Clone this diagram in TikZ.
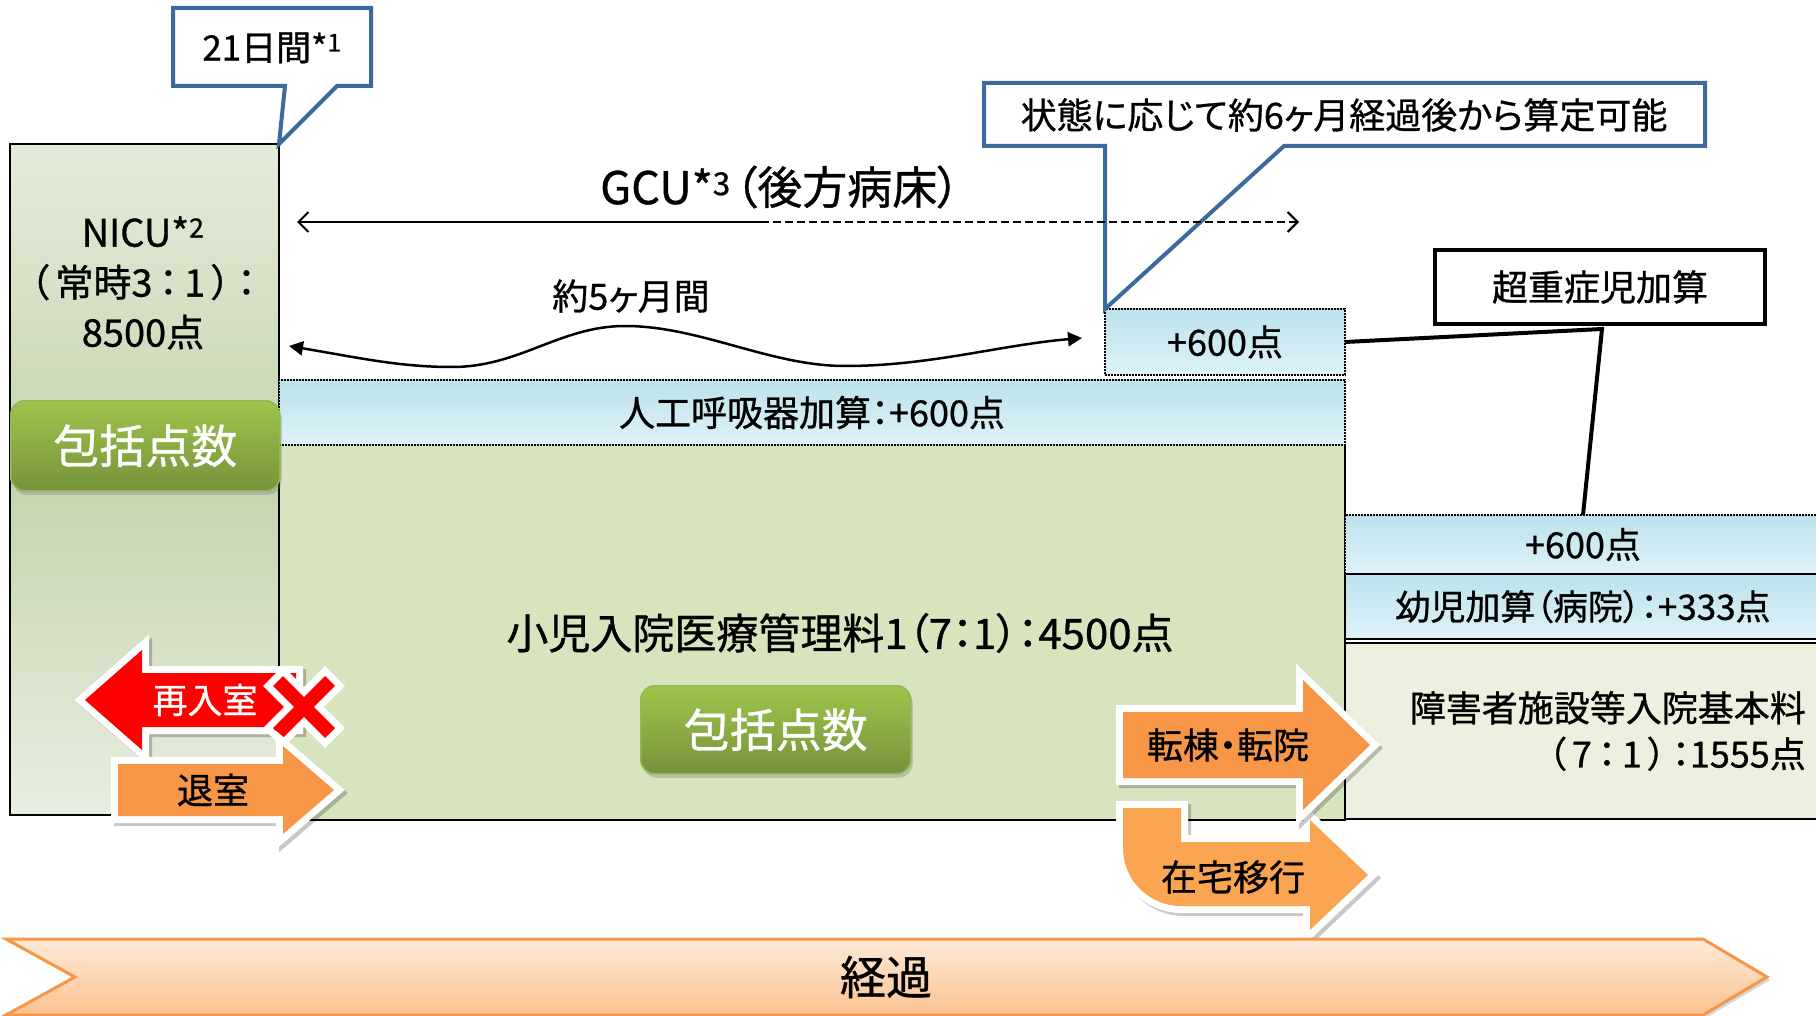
\documentclass[tikz,border=0pt]{standalone}
\usepackage{fontspec}
\setmainfont{Noto Sans CJK JP}[RawFeature=+palt, FakeBold=0.8]
\usetikzlibrary{arrows.meta,shadows}
\definecolor{nicuTop}{HTML}{E4EBD9}
\definecolor{nicuMid}{HTML}{C5D4AE}
\definecolor{nicuBot}{HTML}{E8EEE0}
\definecolor{mainGreen}{HTML}{D7E4BD}
\definecolor{paleGreen}{HTML}{EBF1DE}
\definecolor{blueTop}{HTML}{BCE2EC}
\definecolor{blueBot}{HTML}{DFF2F9}
\definecolor{btnTop}{HTML}{9EC54B}
\definecolor{btnBot}{HTML}{76933C}
\definecolor{btnEdge}{HTML}{93B856}
\definecolor{callBlue}{HTML}{3D6A9C}
\definecolor{arrOrange}{HTML}{F79646}
\definecolor{arrOrangeB}{HTML}{FBA552}
\definecolor{chevTop}{HTML}{FDEADA}
\definecolor{chevBot}{HTML}{FBC28F}
\newcommand{\myfs}[2]{\fontsize{#1}{#2}\selectfont}
\begin{document}
\begin{tikzpicture}[x=1pt,y=-1pt,
  box/.style={anchor=north west, inner sep=0pt, outer sep=0pt, line width=2pt, draw=black, font=\myfs{36}{40}},
  bluebar/.style={box, top color=blueTop, bottom color=blueBot, densely dotted, line width=1.8pt},
  lbl/.style={inner sep=0pt, font=\myfs{36}{48}, text=black},
  btn/.style={anchor=north west, inner sep=0pt, rounded corners=14pt, top color=btnTop, bottom color=btnBot, draw=btnEdge, line width=1.5pt, drop shadow={opacity=0.35,shadow xshift=2pt,shadow yshift=-4pt}, text=white, font=\myfs{46}{50}},
  callout/.style={draw=callBlue, fill=white, line width=4pt, line join=miter},
  wborder/.style={preaction={draw=black, opacity=0.22, line width=14pt, transform canvas={shift={(3pt,-3pt)}}}, preaction={draw=white, line width=14pt, line join=miter}},
  ]
\useasboundingbox (0,0) rectangle (1816,1016);
\fill[white] (0,0) rectangle (1816,1016);

% boxes
\node[box, minimum width=269pt, minimum height=671pt, top color=nicuTop, bottom color=nicuBot, middle color=nicuMid] (nicu) at (10,144) {};
\node[box, fill=mainGreen, minimum width=1066pt, minimum height=375pt] (main) at (279,445) {};
\node[bluebar, minimum width=1066pt, minimum height=65pt] (vent) at (279,380) {人工呼吸器加算：+600点};
\node[bluebar, minimum width=240pt, minimum height=66pt] (sm) at (1105,309) {+600点};
\node[bluebar, minimum width=476pt, minimum height=59pt] (r600) at (1345,515) {+600点};
\node[box, top color=blueTop, bottom color=blueBot, minimum width=476pt, minimum height=65pt, font=\myfs{35}{40}] (youji) at (1345,574) {幼児加算（病院）：+333点};
\node[box, fill=paleGreen, minimum width=476pt, minimum height=176pt] (shogai) at (1345,643) {};

% texts
\node[lbl, align=center, font=\myfs{38}{50}] (nicut) at (143,283) {NICU*\textsuperscript{2}\\（\,常時3\,：\,1\,）\,：\\8500点};
\node[lbl, font=\myfs{42}{48}] (maint) at (840,633) {小児入院医療管理料1（7：1）：4500点};
\node[lbl, align=right, anchor=east, font=\myfs{36}{46}] (shogait) at (1806,731) {障害者施設等入院基本料\\（\,7\,：\,1\,）\,：1555点};

% buttons
\node[btn, minimum width=269pt, minimum height=90pt] (b1) at (10,400) {包括点数};
\node[btn, minimum width=270pt, minimum height=88pt] (b2) at (640,685) {包括点数};

% callouts
\path[callout] (173,8) -- (371,8) -- (371,86) -- (337,86) -- (nicu.north east) -- (285,86) -- (173,86) -- cycle;
\node[lbl, font=\myfs{35}{40}] (c1) at (272,48) {21日間*\textsuperscript{1}};
\path[callout] (984,83) -- (1705,83) -- (1705,146) -- (1284,146) -- (sm.north west) -- (1105,146) -- (984,146) -- cycle;
\node[lbl] (c2) at (1344,115) {状態に応じて約6ヶ月経過後から算定可能};

% GCU
\node[lbl, font=\myfs{45}{50}] (gcu) at (780,187) {GCU*\textsuperscript{3}\hspace{4pt}（後方病床）};
\coordinate (gL) at (297,222);
\coordinate (gM) at (761,222);
\coordinate (gR) at (1299,222);
\draw[line width=2pt, {Straight Barb[length=10pt,width=20pt]}-] (gL) -- (gM);
\draw[line width=2pt, dash pattern=on 8pt off 4pt, -{Straight Barb[length=10pt,width=20pt]}] (gM) -- (gR);

% five months
\node[lbl] (five) at (631,296) {約5ヶ月間};
\coordinate (wL) at (289,346);
\coordinate (wR) at (1082,338);
\draw[line width=2.5pt, {Triangle[length=14pt,width=14pt]}-{Triangle[length=14pt,width=14pt]}] (wL) .. controls (360,358) and (400,367) .. (452,367) .. controls (520,367) and (560,326) .. (625,326) .. controls (700,326) and (770,366) .. (845,366) .. controls (930,366) and (1000,345) .. (wR);

% chou
\node[draw=black, line width=4pt, fill=white, minimum width=330pt, minimum height=74pt, inner sep=0pt, font=\myfs{36}{40}] (chou) at (1600,287) {超重症児加算};
\coordinate (j) at (1602,329);
\draw[line width=4pt] (sm.east) -- (j) -- (r600.north);

% re-admission arrow
\path[wborder, fill=red] (85,700) -- (142,650) -- (142,673) -- (296,673) -- (296,727) -- (142,727) -- (142,750) -- cycle;
\node[lbl, text=white, font=\myfs{35}{40}] (re) at (205,700) {再入室};
\draw[white, line width=28pt] (273,676) -- (335,738) (335,676) -- (273,738);
\draw[red, line width=14pt] (278,681) -- (330,733) (330,681) -- (278,733);

% discharge arrow
\path[wborder, fill=arrOrange] (118,764) -- (283,764) -- (283,746) -- (334,790) -- (283,834) -- (283,816) -- (118,816) -- cycle;
\node[lbl] (tai) at (213,790) {退室};

% home arrow
\path[wborder, fill=arrOrangeB] (1123,808) -- (1123,848) .. controls (1123,880) and (1149,906) .. (1181,906) -- (1310,906) -- (1310,930) -- (1368,875) -- (1310,820) -- (1310,842) -- (1181,842) -- (1181,808) -- cycle;
\node[lbl] (home) at (1233,877) {在宅移行};

% transfer arrow
\path[wborder, fill=arrOrange] (1123,712) -- (1303,712) -- (1303,680) -- (1370,745) -- (1303,810) -- (1303,778) -- (1123,778) -- cycle;
\node[lbl] (trans) at (1228,745) {転棟・転院};

% chevron
\path[draw=arrOrange, line width=3pt, top color=chevTop, bottom color=chevBot, drop shadow={opacity=0.3, shadow xshift=3pt, shadow yshift=-3pt}] (6,939) -- (1703,939) -- (1767,977) -- (1703,1015) -- (6,1015) -- (75,977) -- cycle;
\node[lbl, font=\myfs{46}{50}] (keika) at (886,977) {経過};
\end{tikzpicture}
\end{document}
